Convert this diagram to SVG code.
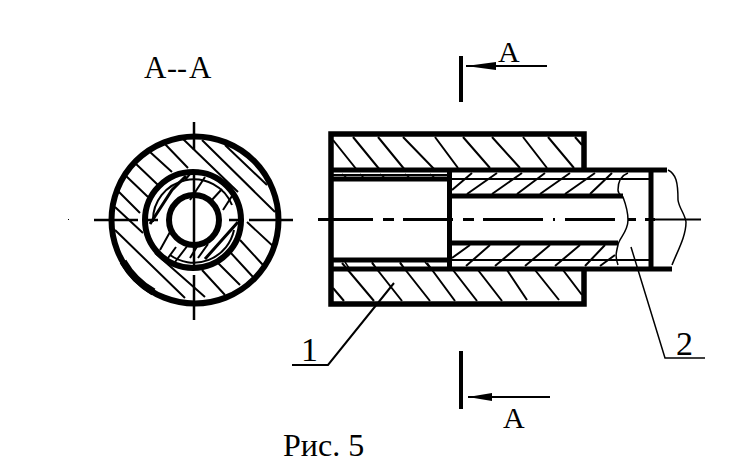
<svg xmlns="http://www.w3.org/2000/svg" width="733" height="476" viewBox="0 0 733 476">
<style>
.thick{fill:none;stroke:#000;stroke-width:5}
.ring{fill:none;stroke:#000;stroke-width:6}
.med{fill:none;stroke:#000;stroke-width:3}
.thin{fill:none;stroke:#000;stroke-width:2}
.hair{fill:none;stroke:#000;stroke-width:1.500}
.fill{fill:#000}
text{font-family:"Liberation Serif","Times New Roman",serif;fill:#000}
</style>
<rect width="733" height="476" fill="#fff"/>
<g id="section-view">
<path class="thin" d="M182 138L238 192M202 140L275 212M225 145L267 185M247 222L275 248M240 240L263 265M230 252L253 277M217 262L240 285M202 270L225 295M163 142L188 168M150 152L172 172M135 163L158 185M125 175L148 197M117 190L140 213M115 207L143 233M115 230L185 298M155 253L205 297"/>
<circle class="ring" cx="195" cy="220" r="83.500"/>
<path class="ring" style="stroke-width:7.500" d="M123 261.500A83 83 0 0 0 153.500 292"/>
<circle class="ring" cx="193" cy="220" r="48"/>
<circle class="ring" cx="194" cy="220" r="25"/>
<path class="thin" d="M153 222A41 41 0 0 1 232 205M234 230A41 41 0 0 1 170 255"/>
<path class="med" d="M150 224L172 190L186 176M205 259L238 222"/>
<path class="thin" d="M185 180L190 174M205 177L190 200M222 189L210 202M232 196L223 210M170 232L160 250M176 247L168 258M188 245L175 262M198 245L190 258M208 244L198 258"/>
</g>
<g id="sleeve">
<path class="thick" style="stroke-width:5.500" d="M584 170V134H331V304H584V268"/>
<path class="thin" d="M333 140L357 170M353 137L380 170M378 137L405 170M403 137L435 170M435 137L458 168M463 137L490 168M492 137L520 168M523 137L547 168M548 137L574 168M575 137L582 145"/>
<path class="thin" d="M333 288L344 301M342 263L374 301M372 263L402 301M400 263L430 301M427 263L455 301M453 270L477 301M478 270L502 301M507 270L527 300M535 270L559 300M563 270L582 295"/>
</g>
<g id="bolt">
<path class="thick" d="M333 170H667M333 179H449M333 260H449M333 269H672M449.500 168V270M651 171V268"/>
<path class="thick" d="M449 196H623M449 243H618"/>
<path class="thin" d="M333 175H449M452 179H650M452 260H650"/>
<path class="hair" d="M342 174L347 178M360 174L364 178M380 174L385 178M405 174L410 178M430 174L435 178M345 262L349 268M372 262L376 268M400 262L404 268M425 262L430 268"/>
<path class="thin" d="M452 190L472 173M467 194L497 173M492 194L522 173M517 194L545 173M540 194L570 173M565 194L595 173M590 194L612 173M452 258L470 245M466 266L490 245M495 266L520 245M525 266L550 245M555 266L580 245M585 266L605 245M600 266L615 255"/>
<path class="hair" d="M628 173C620 176 618 182 618 190C618 194 621 195 623 197C626 205 628 212 628 220C628 232 619 238 618 245C616 253 615 257 618 265"/>
<path class="hair" d="M668 170C676 174 678 182 678 200C679 208 685 214 686 222C686 236 678 250 672 265"/>
</g>
<g id="connectors">
<path class="med" d="M94 220H138M143 220H158M229 220H244M249 220H293M194 122V150M194 172V268M194 275V320" style="stroke-width:2.500"/>
<path class="med" d="M318 219.500H373M383 219.500H394M403 219.500H453M463 219.500H474M483 219.500H543M553 219.500H555M565 219.500H615M628 219.500H636M645 219.500H655"/>
<path class="thin" d="M655 219.500H701"/>
<path class="thick" style="stroke-width:4" d="M461 56V102M461 351V409"/>
<path class="thin" d="M547 66H466"/>
<path class="fill" d="M466 66L496 62V70Z"/>
<path class="thin" d="M550 397H468"/>
<path class="fill" d="M468 397L492 393V401Z"/>
<path class="thin" d="M394 283L328 365H292"/>
<path class="hair" d="M631 247L665 358H705"/>
<rect class="fill" x="68" y="219" width="1" height="1"/>
</g>
<text x="144" y="78" font-size="31">А</text>
<text x="167" y="78" font-size="30">--</text>
<text x="189" y="78" font-size="31">А</text>
<text x="498" y="62" font-size="30">А</text>
<text x="503" y="428" font-size="30">А</text>
<text x="301" y="361" font-size="34">1</text>
<text x="676" y="355" font-size="34">2</text>
<text x="283" y="456" font-size="32">Рис. 5</text>
</svg>
